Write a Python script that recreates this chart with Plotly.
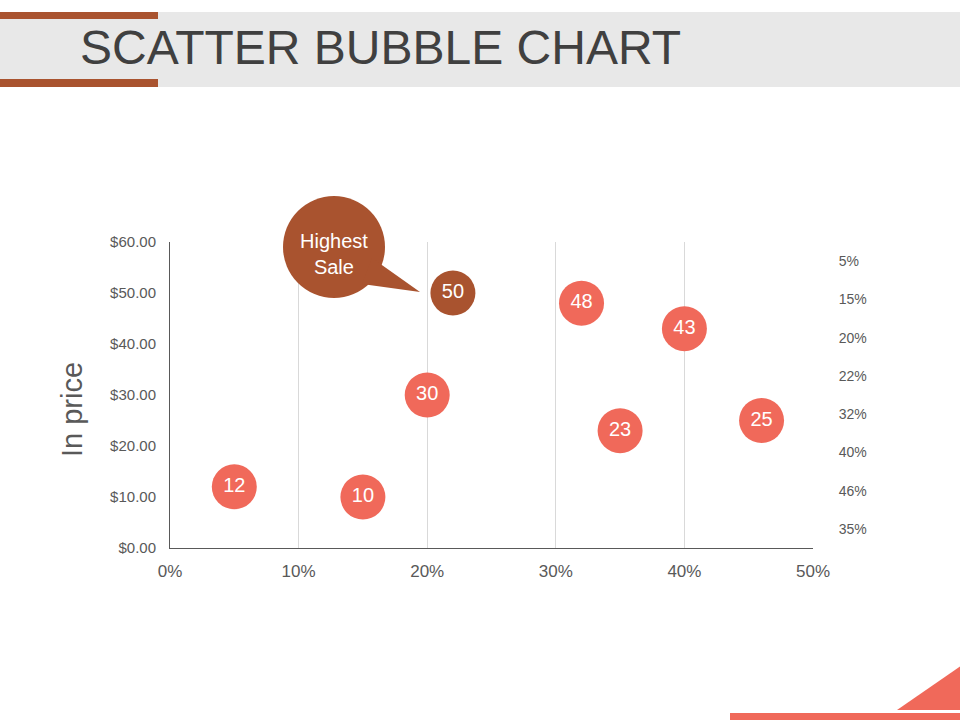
import plotly.graph_objects as go

# chart data
share = [5, 15, 20, 22, 32, 35, 40, 46]          # x, percent
price = [12, 10, 30, 50, 48, 23, 43, 25]         # y, dollars
bubble_labels = [str(v) for v in price]
right_labels = ["5%", "15%", "20%", "22%", "32%", "40%", "46%", "35%"]

SALMON = "#F0695A"
BROWN = "#A9532F"
GREY_TXT = "#595959"
FONT = "Liberation Sans, Arial, sans-serif"

# plot area in page pixels
L, R, T, B = 170, 813, 242, 548
W, H = 960, 720


def px(x):
    return (x - L) / (R - L)


def py(y):
    return (B - y) / (B - T)


top = max(price)
colors = [BROWN if v == top else SALMON for v in price]

fig = go.Figure()

fig.add_trace(go.Scatter(
    x=share, y=price, mode="markers+text",
    text=bubble_labels, textposition="middle center",
    textfont=dict(family=FONT, size=20, color="white"),
    marker=dict(size=45, color=colors, line=dict(width=0)),
    hoverinfo="x+y", showlegend=False, cliponaxis=False,
))

# invisible trace so the right-hand axis is drawn
n = len(right_labels)
fig.add_trace(go.Scatter(
    x=[0] * n, y=[n - i - 0.5 for i in range(n)], yaxis="y2",
    mode="markers", marker=dict(opacity=0), hoverinfo="skip", showlegend=False,
))

fig.update_layout(
    width=W, height=H,
    margin=dict(l=L, r=W - R, t=T, b=H - B),
    paper_bgcolor="white", plot_bgcolor="white",
    font=dict(family=FONT, color=GREY_TXT),
    xaxis=dict(range=[0, 50], dtick=10, ticksuffix="%", showgrid=True,
               gridcolor="#D9D9D9", gridwidth=1, zeroline=False,
               showline=True, linecolor=GREY_TXT, linewidth=1,
               ticks="outside", ticklen=8, tickcolor="rgba(0,0,0,0)",
               tickfont=dict(size=17, color=GREY_TXT), fixedrange=True),
    yaxis=dict(range=[0, 60], dtick=10, tickformat="$.2f", showgrid=False,
               zeroline=False, showline=True, linecolor=GREY_TXT, linewidth=1,
               ticks="outside", ticklen=10, tickcolor="rgba(0,0,0,0)",
               tickfont=dict(size=15, color=GREY_TXT), fixedrange=True),
    yaxis2=dict(overlaying="y", side="right", range=[0, n],
                tickvals=[n - i - 0.5 for i in range(n)], ticktext=right_labels,
                showgrid=False, zeroline=False, showline=False,
                ticks="outside", ticklen=22, tickcolor="rgba(0,0,0,0)",
                tickfont=dict(size=14, color=GREY_TXT), fixedrange=True),
)

shapes = [
    # title band and accent bars
    dict(type="rect", x0=px(0), x1=px(960), y0=py(12), y1=py(87),
         fillcolor="#E8E8E8", line_width=0, layer="below"),
    dict(type="rect", x0=px(0), x1=px(158), y0=py(12), y1=py(19),
         fillcolor=BROWN, line_width=0),
    dict(type="rect", x0=px(0), x1=px(158), y0=py(79), y1=py(87),
         fillcolor=BROWN, line_width=0),
    # bottom-right decoration
    dict(type="rect", x0=px(730), x1=px(962), y0=py(713), y1=py(722),
         fillcolor=SALMON, line_width=0),
    dict(type="path",
         path=f"M {px(897)} {py(710)} L {px(962)} {py(665)} L {px(962)} {py(710)} Z",
         fillcolor=SALMON, line_width=0),
    # speech bubble callout
    dict(type="circle", x0=px(283), x1=px(385), y0=py(196), y1=py(298),
         fillcolor=BROWN, line_width=0),
    dict(type="path",
         path=f"M {px(372)} {py(258)} L {px(420)} {py(292)} L {px(362)} {py(284)} Z",
         fillcolor=BROWN, line_width=0),
]
for s in shapes:
    s.setdefault("xref", "paper")
    s.setdefault("yref", "paper")
fig.update_layout(shapes=shapes)

fig.add_annotation(x=px(78), y=py(47), xref="paper", yref="paper",
                   text="SCATTER BUBBLE CHART", showarrow=False,
                   xanchor="left", yanchor="middle",
                   font=dict(family=FONT, size=48, color="#404040"))
fig.add_annotation(x=px(72), y=py(410), xref="paper", yref="paper",
                   text="In price", showarrow=False, textangle=-90,
                   xanchor="center", yanchor="middle",
                   font=dict(family=FONT, size=29, color=GREY_TXT))
fig.add_annotation(x=px(334), y=py(254), xref="paper", yref="paper",
                   text="Highest<br>Sale", showarrow=False,
                   xanchor="center", yanchor="middle",
                   font=dict(family=FONT, size=20, color="white"))

# drop the default page margin so the figure sits at the window's corner
fig.write_html("out.html", config={"displayModeBar": False},
               post_script="document.body.style.margin='0';")
